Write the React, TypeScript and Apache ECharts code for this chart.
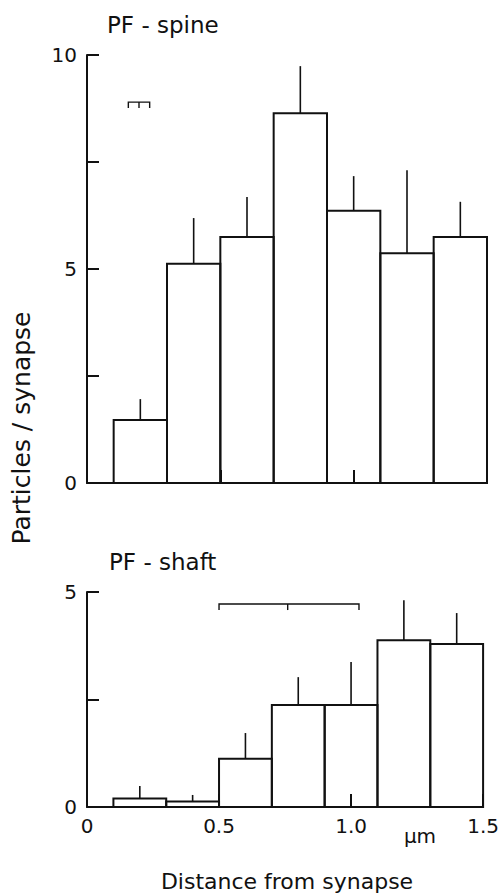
import React, { useEffect, useRef } from 'react';
import * as echarts from 'echarts';

const binStarts = [0.1, 0.3, 0.5, 0.7, 0.9, 1.1, 1.3];
const binEnds = [0.3, 0.5, 0.7, 0.9, 1.1, 1.3, 1.5];
const spineMeans = [1.47, 5.12, 5.75, 8.64, 6.36, 5.37, 5.75];
const spineErrTops = [1.96, 6.19, 6.68, 9.74, 7.17, 7.31, 6.57];
const shaftMeans = [0.2, 0.13, 1.12, 2.37, 2.37, 3.88, 3.79];
const shaftErrTops = [0.49, 0.28, 1.72, 3.02, 3.37, 4.81, 4.51];
// bracket: [left, middle, right, height]
const spineBracket = [0.155, 0.195, 0.235, 8.9];
const shaftBracket = [0.5, 0.76, 1.03, 4.72];
const xTickLabels = ['0', '0.5', '1.0', '1.5'];
const spineYLabels = ['0', '5', '10'];
const shaftYLabels = ['0', '5'];

const FONT = 'DejaVu Sans';
const INK = '#111';

const renderBar = (params: any, api: any) => {
  const x0 = api.value(0);
  const x1 = api.value(1);
  const m = api.value(2);
  const e = api.value(3);
  const p0 = api.coord([x0, 0]);
  const p1 = api.coord([x1, m]);
  const pe = api.coord([(x0 + x1) / 2, e]);
  return {
    type: 'group',
    children: [
      {
        type: 'rect',
        shape: { x: p0[0], y: p1[1], width: p1[0] - p0[0], height: p0[1] - p1[1] },
        style: { fill: 'none', stroke: INK, lineWidth: 2 },
      },
      {
        type: 'line',
        shape: { x1: pe[0], y1: p1[1], x2: pe[0], y2: pe[1] },
        style: { stroke: INK, lineWidth: 1.6 },
      },
    ],
  };
};

const renderBracket = (params: any, api: any) => {
  const a = api.coord([api.value(0), api.value(3)]);
  const mid = api.coord([api.value(1), api.value(3)]);
  const b = api.coord([api.value(2), api.value(3)]);
  const leg = 6;
  return {
    type: 'group',
    children: [
      {
        type: 'polyline',
        shape: { points: [[a[0], a[1] + leg], [a[0], a[1]], [b[0], b[1]], [b[0], b[1] + leg]] },
        style: { fill: 'none', stroke: INK, lineWidth: 1.4 },
      },
      {
        type: 'line',
        shape: { x1: mid[0], y1: mid[1], x2: mid[0], y2: mid[1] + leg },
        style: { stroke: INK, lineWidth: 1.4 },
      },
    ],
  };
};

const barData = (means: number[], tops: number[]) =>
  binStarts.map((s, i) => [s, binEnds[i], means[i], tops[i]]);

const App: React.FC = () => {
  const ref = useRef<HTMLDivElement>(null);
  useEffect(() => {
    if (!ref.current) return;
    const chart = echarts.init(ref.current, undefined, { renderer: 'svg' });
    const axisLine = { show: true, onZero: false, lineStyle: { color: INK, width: 2 } };
    const axisTick = { show: true, inside: true, length: 13, lineStyle: { color: INK, width: 2 } };
    const yLabelFmt = (labels: string[]) => (v: number) => {
      const s = String(v);
      return labels.indexOf(s) >= 0 ? s : '';
    };
    chart.setOption({
      animation: false,
      backgroundColor: '#fff',
      grid: [
        { left: 87, top: 55, width: 400, height: 428 },
        { left: 87, top: 592, width: 400, height: 215 },
      ],
      xAxis: [
        {
          gridIndex: 0, type: 'value', min: 0, max: 1.5, interval: 0.5,
          axisLine, axisTick, axisLabel: { show: false }, splitLine: { show: false },
        },
        {
          gridIndex: 1, type: 'value', min: 0, max: 1.5, interval: 0.5,
          axisLine, axisTick, splitLine: { show: false },
          axisLabel: {
            show: true, color: INK, fontSize: 20, fontFamily: FONT, margin: 9,
            formatter: (v: number) => xTickLabels[Math.round(v / 0.5)] ?? '',
          },
        },
      ],
      yAxis: [
        {
          gridIndex: 0, type: 'value', min: 0, max: 10, interval: 2.5,
          axisLine, axisTick: { ...axisTick, length: 12 }, splitLine: { show: false },
          axisLabel: { show: true, color: INK, fontSize: 20, fontFamily: FONT, margin: 10, formatter: yLabelFmt(spineYLabels) },
        },
        {
          gridIndex: 1, type: 'value', min: 0, max: 5, interval: 2.5,
          axisLine, axisTick: { ...axisTick, length: 12 }, splitLine: { show: false },
          axisLabel: { show: true, color: INK, fontSize: 20, fontFamily: FONT, margin: 10, formatter: yLabelFmt(shaftYLabels) },
        },
      ],
      series: [
        { type: 'custom', xAxisIndex: 0, yAxisIndex: 0, renderItem: renderBar, data: barData(spineMeans, spineErrTops), encode: { x: [0, 1], y: [2, 3] } },
        { type: 'custom', xAxisIndex: 1, yAxisIndex: 1, renderItem: renderBar, data: barData(shaftMeans, shaftErrTops), encode: { x: [0, 1], y: [2, 3] } },
        { type: 'custom', xAxisIndex: 0, yAxisIndex: 0, renderItem: renderBracket, data: [spineBracket], encode: { x: [0, 2], y: 3 } },
        { type: 'custom', xAxisIndex: 1, yAxisIndex: 1, renderItem: renderBracket, data: [shaftBracket], encode: { x: [0, 2], y: 3 } },
      ],
      graphic: [
        { type: 'text', left: 107, top: 13, style: { text: 'PF - spine', font: `23px "${FONT}"`, fill: INK } },
        { type: 'text', left: 109, top: 550, style: { text: 'PF - shaft', font: `23px "${FONT}"`, fill: INK } },
        {
          type: 'text', x: 21, y: 428, rotation: Math.PI / 2,
          style: { text: 'Particles / synapse', font: `25px "${FONT}"`, fill: INK, align: 'center', verticalAlign: 'middle' },
        },
        {
          type: 'text', x: 287, y: 881,
          style: { text: 'Distance from synapse', font: `22px "${FONT}"`, fill: INK, align: 'center', verticalAlign: 'middle' },
        },
        {
          type: 'text', x: 420, y: 836,
          style: { text: 'µm', font: `20px "${FONT}"`, fill: INK, align: 'center', verticalAlign: 'middle' },
        },
      ],
    });
    return () => chart.dispose();
  }, []);
  return <div ref={ref} style={{ position: 'absolute', left: 0, top: 0, width: 502, height: 893 }} />;
};

export default App;
